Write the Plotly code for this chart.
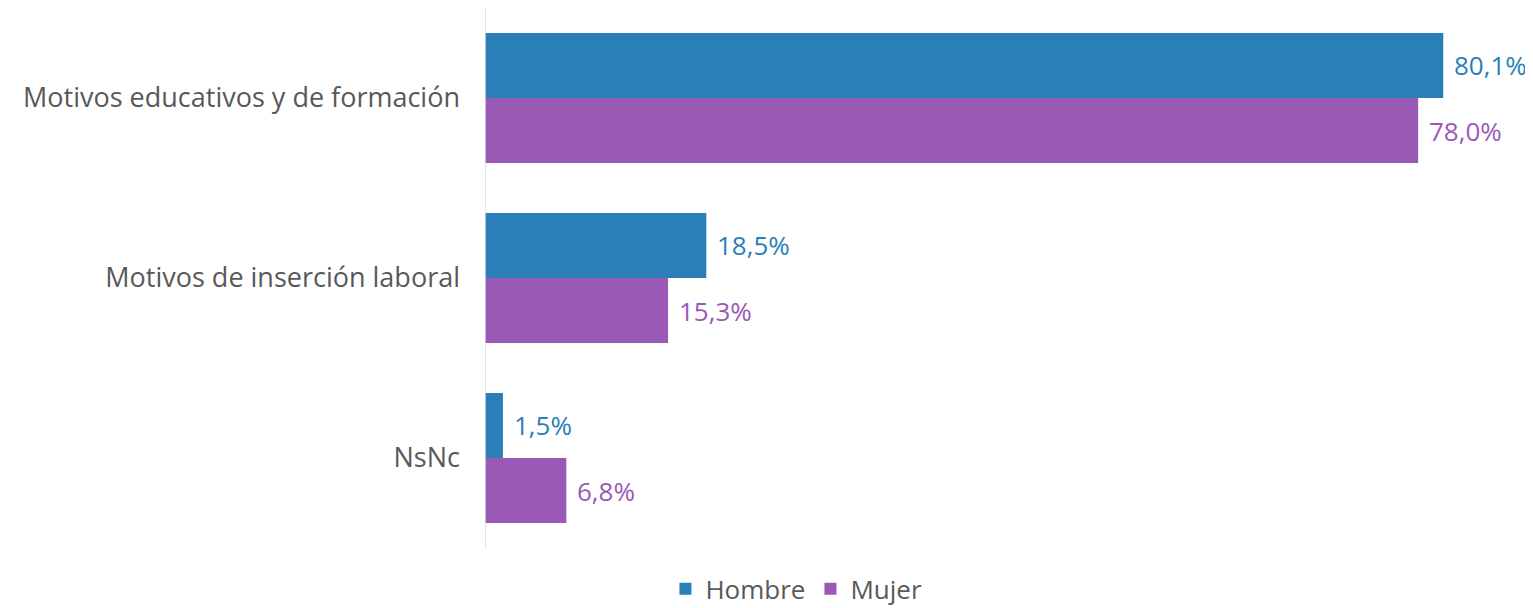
import plotly.graph_objects as go

categories = ["Motivos educativos y de formación", "Motivos de inserción laboral", "NsNc"]
hombre = [80.1, 18.5, 1.5]
mujer = [78.0, 15.3, 6.8]
series_names = ["Hombre", "Mujer"]

BLUE = "#2A7FB8"
PURPLE = "#9B59B6"
GRAY = "#595959"
FONT = "Open Sans"

fig = go.Figure()
for name, vals, col in [(series_names[0], hombre, BLUE), (series_names[1], mujer, PURPLE)]:
    fig.add_trace(go.Bar(
        y=categories, x=vals, name=name, orientation="h",
        marker=dict(color=col, line=dict(width=0)),
    ))

# the page body has an 8px margin, so the figure is drawn at (8, 8)
fig.update_layout(
    barmode="group",
    bargap=0.278,
    bargroupgap=0,
    width=1525, height=600,
    margin=dict(l=477, r=0, t=0, b=60, autoexpand=False),
    plot_bgcolor="white", paper_bgcolor="white",
    separators=",.",
    font=dict(family=FONT, size=26, color=GRAY),
    showlegend=True,
    legend=dict(orientation="h", xref="container", yref="container",
                x=0.517, xanchor="center", y=0.032, yanchor="middle",
                font=dict(size=26, color=GRAY), traceorder="normal"),
    xaxis=dict(range=[0, 87.6], showgrid=False, zeroline=False, showticklabels=False,
               showline=False),
    yaxis=dict(autorange="reversed", showgrid=False, showline=False, ticks="",
               ticklabelstandoff=24, tickfont=dict(size=27, color=GRAY)),
    shapes=[dict(type="line", xref="x", yref="paper", x0=0, x1=0, y0=0, y1=1,
                 line=dict(color="#D9D9D9", width=1.5))],
)

ann = []
for vals, col, dy in [(hombre, BLUE, -0.1806), (mujer, PURPLE, 0.1806)]:
    for idx, v in enumerate(vals):
        ann.append(dict(x=v, y=idx + dy, xref="x", yref="y",
                        text=f"{v:.1f}%".replace(".", ","),
                        showarrow=False, xanchor="left", yanchor="middle", xshift=9,
                        font=dict(family=FONT, size=26, color=col)))
fig.update_layout(annotations=ann)

fig.write_html("out.html")
